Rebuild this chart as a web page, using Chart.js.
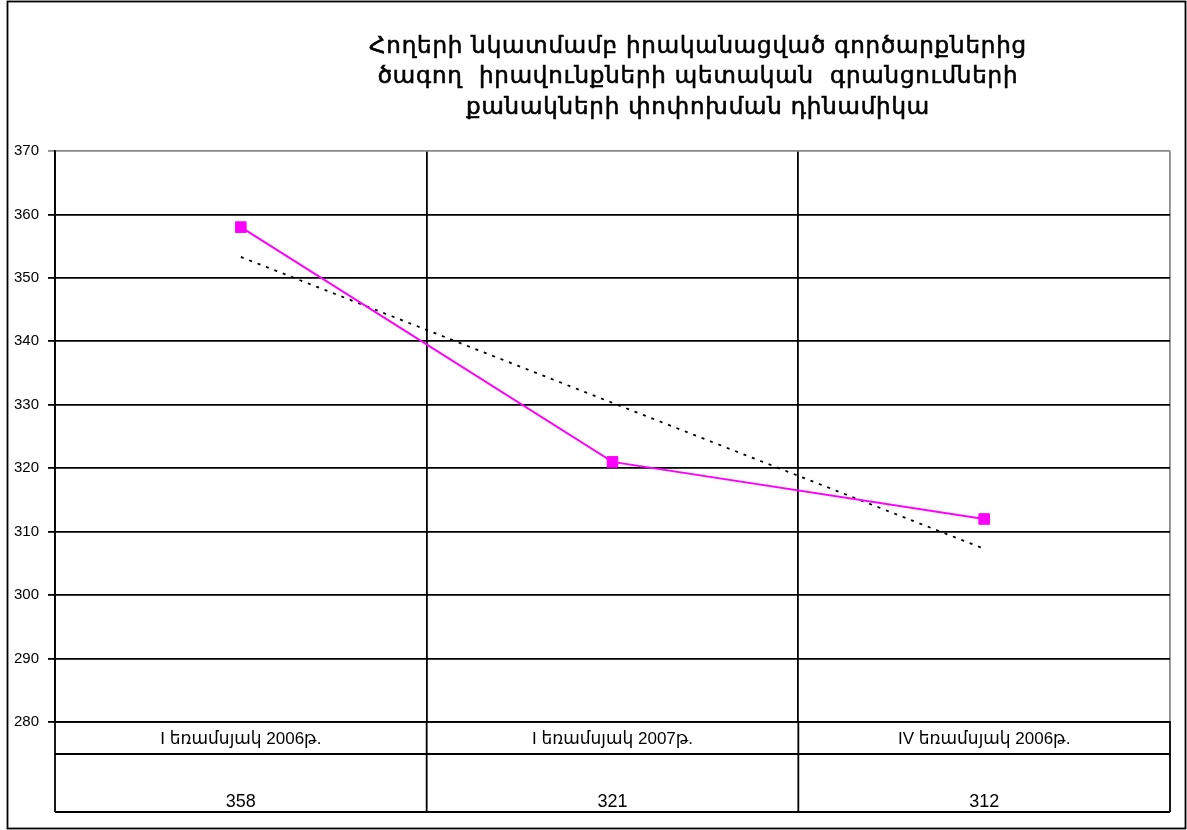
<!DOCTYPE html>
<html><head><meta charset="utf-8">
<script src="https://cdn.jsdelivr.net/npm/chart.js@4/dist/chart.umd.min.js"></script>
<style>html,body{margin:0;padding:0;background:#fff;}#wrap{width:1187px;height:830px;position:relative;}</style>
</head><body><div id="wrap"><canvas id="c" width="1187" height="830"></canvas></div>
<script>
const titleLines = ["Հողերի նկատմամբ իրականացված գործարքներից", "ծագող  իրավունքների պետական  գրանցումների", "քանակների փոփոխման դինամիկա"];
const categories = ["I եռամսյակ 2006թ.", "I եռամսյակ 2007թ.", "IV եռամսյակ 2006թ."];
const values = [358, 321, 312];
const trendValues = [353.3, 330.3, 307.3];
const yMin = 280, yMax = 370, yStep = 10;

const FONT = "'Liberation Sans', Arial, 'DejaVu Sans', sans-serif";

const decor = {
  id: 'decor',
  afterDraw(chart) {
    const ctx = chart.ctx;
    const ca = chart.chartArea;
    const x = chart.scales.x;
    ctx.save();
    // outer border
    ctx.strokeStyle = '#000'; ctx.lineWidth = 1.8;
    ctx.strokeRect(7.5, 1.5, 1178, 827);
    // title
    ctx.fillStyle = '#000';
    ctx.font = "23px 'DejaVu Sans', 'Noto Sans', sans-serif";
    ctx.letterSpacing = '0.8px';
    ctx.lineWidth = 0.6; ctx.strokeStyle = '#000';
    ctx.textAlign = 'center'; ctx.textBaseline = 'middle';
    titleLines.forEach((t, i) => { ctx.fillText(t, 698, 47 + i * 30.5); ctx.strokeText(t, 698, 47 + i * 30.5); });
    ctx.letterSpacing = '0px';
    // data table
    const top = ca.bottom, r1 = top + 32, bot = top + 90;
    ctx.strokeStyle = '#000'; ctx.lineWidth = 1.8;
    ctx.beginPath();
    ctx.moveTo(ca.left, r1); ctx.lineTo(ca.right, r1);
    ctx.moveTo(ca.left, bot); ctx.lineTo(ca.right, bot);
    const n = categories.length;
    const w = (ca.right - ca.left) / n;
    for (let i = 0; i <= n; i++) {
      const xx = ca.left + i * w;
      ctx.moveTo(xx, top); ctx.lineTo(xx, bot);
    }
    ctx.stroke();
    ctx.textBaseline = 'middle';
    categories.forEach((c, i) => {
      const cx = x.getPixelForValue(i);
      ctx.font = "17px " + FONT;
      ctx.fillText(c, cx, top + 17);
      ctx.font = "18px " + FONT;
      ctx.fillText(String(values[i]), cx, bot - 10);
    });
    ctx.restore();
  }
};

new Chart(document.getElementById('c'), {
  type: 'line',
  data: {
    labels: categories,
    datasets: [
      { data: values, borderColor: '#ff00ff', backgroundColor: '#ff00ff', borderWidth: 2,
        pointStyle: 'rect', pointRadius: 7.5, pointBorderWidth: 1, pointHoverRadius: 7.5, tension: 0, order: 1 },
      { data: trendValues, borderColor: '#000', borderWidth: 1.8, borderDash: [3, 6],
        pointRadius: 0, tension: 0, order: 2 }
    ]
  },
  options: {
    responsive: false, animation: false,
    layout: { padding: { left: 7, top: 151, right: 17, bottom: 18 } },
    plugins: { legend: { display: false }, title: { display: false }, tooltip: { enabled: false } },
    scales: {
      x: {
        offset: true,
        grid: { offset: true, drawTicks: false, lineWidth: 1.8,
          color: (c) => (c.index === undefined ? '#888' : '#000') },
        border: { color: '#000', width: 1.8 },
        ticks: { display: false },
        afterFit: (s) => { s.height = 90; }
      },
      y: {
        min: yMin, max: yMax,
        ticks: { stepSize: yStep, color: '#000', font: { family: FONT, size: 15 }, padding: 9 },
        grid: { lineWidth: 1.8, tickLength: 7,
          color: (c) => (c.tick && c.tick.value === yMax ? '#888' : '#000') },
        border: { color: '#000', width: 1.8 },
        afterFit: (s) => { s.width = 48; }
      }
    }
  },
  plugins: [decor]
});
</script></body></html>
